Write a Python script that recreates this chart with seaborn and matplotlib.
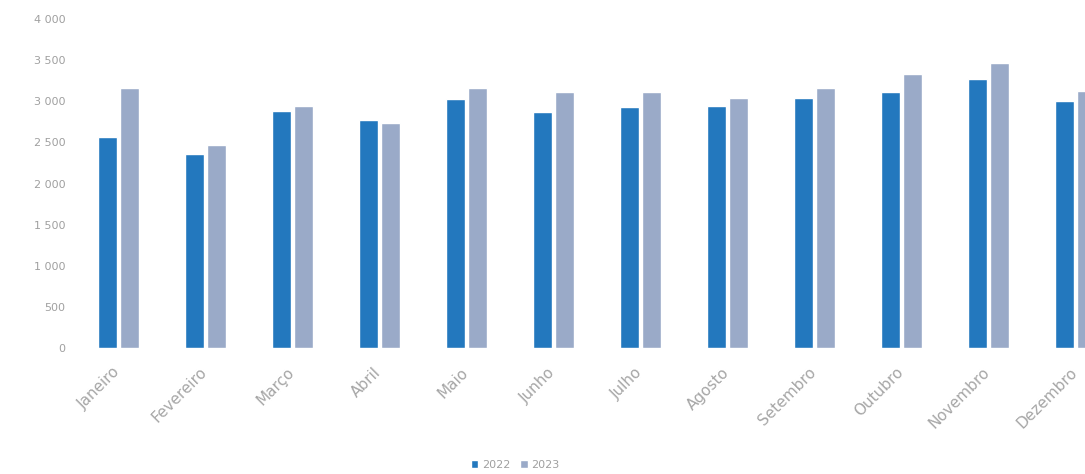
import matplotlib
matplotlib.use("Agg")
import matplotlib.pyplot as plt
import matplotlib.transforms as mtransforms
import seaborn as sns
import pandas as pd
from matplotlib.ticker import FuncFormatter

months = ["Janeiro", "Fevereiro", "Março", "Abril", "Maio", "Junho",
          "Julho", "Agosto", "Setembro", "Outubro", "Novembro", "Dezembro"]
values_2022 = [2570, 2360, 2880, 2770, 3030, 2870, 2930, 2945, 3040, 3110, 3275, 3000]
values_2023 = [3160, 2470, 2945, 2730, 3160, 3115, 3115, 3040, 3165, 3330, 3470, 3130]
years = ["2022", "2023"]
yticks = [0, 500, 1000, 1500, 2000, 2500, 3000, 3500, 4000]

df = pd.DataFrame({
    "Mês": months * 2,
    "Ano": [years[0]] * len(months) + [years[1]] * len(months),
    "Valor": values_2022 + values_2023,
})

sns.set_theme(style="white")
plt.rcParams["font.family"] = ["DejaVu Sans"]

fig = plt.figure(figsize=(10.85, 4.74), dpi=100)
ax = fig.add_axes([75 / 1085, 126 / 474, (1085 - 75) / 1085, (348 - 19) / 474])

palette = {"2022": "#2378be", "2023": "#9aaac8"}
sns.barplot(data=df, x="Mês", y="Valor", hue="Ano", order=months, hue_order=years,
            palette=palette, width=0.51, gap=0.14, ax=ax, legend=True,
            saturation=1, errorbar=None)

ax.set_ylim(0, 4000)
ax.set_xlim(-0.5, 11.11)
ax.set_yticks(yticks)
ax.yaxis.set_major_formatter(FuncFormatter(lambda v, p: f"{int(v):,}".replace(",", " ")))
ax.set_xlabel("")
ax.set_ylabel("")
for s in ax.spines.values():
    s.set_visible(False)
ax.tick_params(axis="y", length=0, pad=7, labelsize=8, labelcolor="#a0a0a0")
ax.tick_params(axis="x", length=0, pad=12, labelsize=11, labelcolor="#a6a6a6")
offset = mtransforms.ScaledTranslation(-6 / 100, 0, fig.dpi_scale_trans)
for lbl in ax.get_xticklabels():
    lbl.set_rotation(45)
    lbl.set_ha("right")
    lbl.set_rotation_mode("anchor")
    lbl.set_transform(lbl.get_transform() + offset)

leg = ax.get_legend()
handles, labels = ax.get_legend_handles_labels()
leg.remove()
fig.legend(handles, labels, loc="center", bbox_to_anchor=(515 / 1085, 1 - 465 / 474),
           ncol=2, frameon=False, fontsize=8, handlelength=0.7, handleheight=0.7,
           handletextpad=0.3, columnspacing=0.9, labelcolor="#a0a0a0")

fig.savefig("out.png", dpi=100)
